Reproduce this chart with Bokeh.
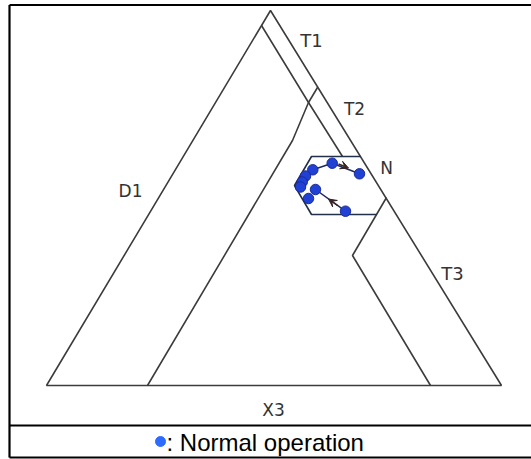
from bokeh.plotting import figure
from bokeh.models import Range1d, Arrow, VeeHead
from bokeh.embed import file_html
from bokeh.resources import INLINE
from bokeh.core.properties import value

# ---- drawing data (chart units) ----
outer_x = [270, 501, 46, 270]
outer_y = [10, 385, 385, 10]

t1_inner_x = [261, 308, 342]
t1_inner_y = [25, 102, 156]

t1_t2_x = [317, 308]
t1_t2_y = [87, 102]

d1_bound_x = [308, 292, 147]
d1_bound_y = [102, 140, 385]

t2_t3_x = [386, 352, 430]
t2_t3_y = [197, 255, 385]

n_zone_x = [360, 311, 294, 311, 376]
n_zone_y = [156, 156, 185, 214, 214]

# normal-operation measurement points
pts_x = [331.7, 359, 312.3, 305, 301.7, 300, 315, 308, 345]
pts_y = [162.7, 173.3, 169.3, 175.5, 181.5, 186.5, 189, 198, 210.7]

# trajectories
traj1_x = [301.7, 312.3, 331.7, 359]
traj1_y = [181.5, 169.3, 162.7, 173.3]
traj2_x = [345, 315]
traj2_y = [210.7, 189]

arrow1 = (338, 163.5, 348, 167.5)
arrow2 = (337, 205, 328, 198.5)

labels = ["T1", "T2", "N", "D1", "T3", "X3"]
label_x = [311, 354, 386, 130, 452, 273]
label_y = [40, 108, 167, 190, 273, 409]
label_size = ["18px", "17px", "17px", "17px", "18px", "17px"]

legend_text = ": Normal operation"

# ---- figure ----
p = figure(width=531, height=459, x_range=Range1d(0, 531), y_range=Range1d(459, 0),
           output_backend="svg", toolbar_location=None, min_border=0)
p.axis.visible = False
p.grid.visible = False
p.outline_line_color = None
p.background_fill_color = "white"
p.border_fill_color = "white"

# frame
fc = "black"
p.line([9, 531], [4.5, 4.5], line_color=fc, line_width=2.2)
p.line([9, 9], [4.5, 457], line_color=fc, line_width=2.2)
p.line([9, 531], [425, 425], line_color=fc, line_width=2.2)
p.line([9, 531], [457, 457], line_color=fc, line_width=2.2)

lc = "#3c3c3c"
lw = 1.6
p.line(outer_x, outer_y, line_color=lc, line_width=lw)
p.line(t1_inner_x, t1_inner_y, line_color=lc, line_width=lw)
p.line(t1_t2_x, t1_t2_y, line_color=lc, line_width=lw)
p.line(d1_bound_x, d1_bound_y, line_color=lc, line_width=lw)
p.line(t2_t3_x, t2_t3_y, line_color=lc, line_width=lw)
p.line(n_zone_x, n_zone_y, line_color="#22304a", line_width=lw)

p.line(traj1_x, traj1_y, line_color="#1c2a5c", line_width=1.5)
p.line(traj2_x, traj2_y, line_color="#1c2a5c", line_width=1.5)
for a in (arrow1, arrow2):
    p.add_layout(Arrow(end=VeeHead(size=8, fill_color="#3a2424", line_color="#3a2424"),
                       x_start=a[0], y_start=a[1], x_end=a[2], y_end=a[3],
                       line_color="#3a2424", line_width=1.5))

p.scatter(pts_x, pts_y, size=10.5, fill_color="#2140d4", line_color="#1a2c9a", line_width=1)

for t, x, y, s in zip(labels, label_x, label_y, label_size):
    p.text([x], [y], text=[t], text_font=value("DejaVu Sans"), text_font_size=s,
           text_color="#333333", text_align="center", text_baseline="middle")

# legend row
p.scatter([160], [441], size=10, fill_color="#2e6bff", line_color="#2e6bff")
p.text([166], [441.5], text=[legend_text], text_font=value("Liberation Sans"),
       text_font_size="24px", text_color="black", text_align="left", text_baseline="middle")

open("out.html", "w").write(file_html(p, INLINE))
